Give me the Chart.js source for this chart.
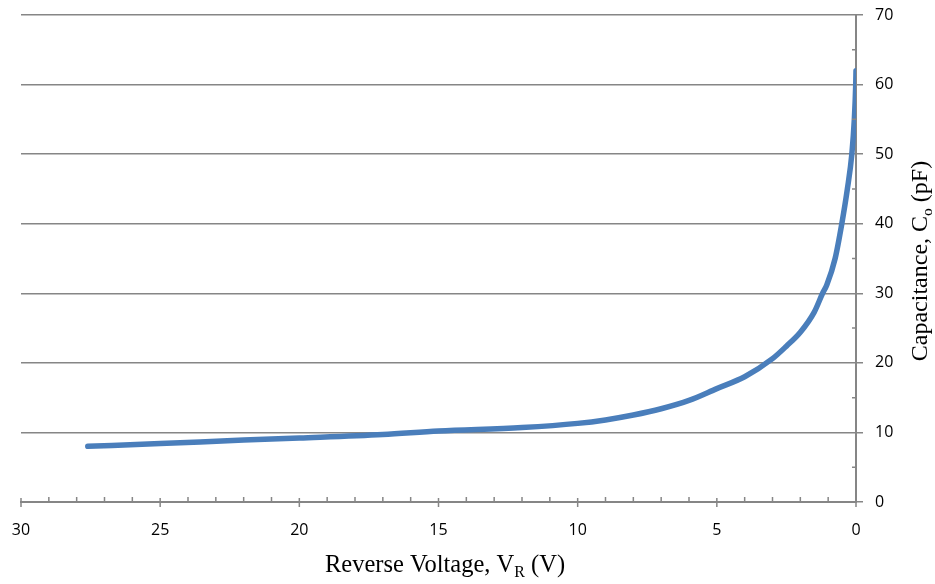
<!DOCTYPE html>
<html>
<head>
<meta charset="utf-8">
<script src="https://cdn.jsdelivr.net/npm/chart.js@4"></script>
<style>
  body { margin: 0; background: #fff; }
</style>
</head>
<body>
<canvas id="chart" width="935" height="584"></canvas>
<script>
// reverse voltage (V) and capacitance (pF)
const voltage     = [27.6, 25, 22, 20, 17, 15, 12, 10, 9, 8, 7, 6, 5, 4, 3, 2.5, 2, 1.5, 1.2, 1.05, 0.75, 0.51, 0.31, 0.15, 0.06, 0.01, 0]
const capacitance = [8.0, 8.4, 8.9, 9.2, 9.7, 10.2, 10.7, 11.3, 11.8, 12.5, 13.4, 14.6, 16.3, 18.0, 20.6, 22.4, 24.4, 27.3, 30.0, 31.2, 35.0, 40.0, 45.0, 50.0, 55.0, 60.0, 62.0]
const xTicks = [0, 5, 10, 15, 20, 25, 30]
const yTicks = [0, 10, 20, 30, 40, 50, 60, 70]

const axisGray = "#868686"

function drawRich(ctx, parts, x, y, size) {
  // parts: [text, isSub]
  let total = 0
  const widths = parts.map(p => {
    ctx.font = (p[1] ? size * 0.65 : size) + "px 'Liberation Serif'"
    const w = ctx.measureText(p[0]).width
    total += w
    return w
  })
  let cx = x - total / 2
  parts.forEach((p, i) => {
    ctx.font = (p[1] ? size * 0.65 : size) + "px 'Liberation Serif'"
    ctx.fillText(p[0], cx, p[1] ? y + size * 0.22 : y)
    cx += widths[i]
  })
}

const decorations = {
  id: "decorations",
  afterDraw(chart) {
    const ctx = chart.ctx
    const xs = chart.scales.x
    const ys = chart.scales.y
    const area = chart.chartArea
    ctx.save()
    ctx.strokeStyle = axisGray
    ctx.lineWidth = 1.5
    ctx.beginPath()
    // x ticks: minor every 1 V (inside), major every 5 V (crossing)
    for (let v = 0; v <= 30; v++) {
      const px = xs.getPixelForValue(v)
      if (v % 5 === 0) {
        ctx.moveTo(px, area.bottom - 4)
        ctx.lineTo(px, area.bottom + 5)
      } else {
        ctx.moveTo(px, area.bottom - 5)
        ctx.lineTo(px, area.bottom)
      }
    }
    // y minor ticks every 5 pF (inside)
    for (let c = 5; c < 70; c += 10) {
      const py = ys.getPixelForValue(c)
      ctx.moveTo(area.right - 4, py)
      ctx.lineTo(area.right, py)
    }
    ctx.stroke()

    // axis titles with subscripts
    ctx.fillStyle = "#000"
    ctx.textBaseline = "alphabetic"
    ctx.textAlign = "left"
    drawRich(ctx, [["Reverse Voltage, V", false], ["R", true], [" (V)", false]], 445, 572, 24.5)
    ctx.translate(927, 261)
    ctx.rotate(-Math.PI / 2)
    drawRich(ctx, [["Capacitance, C", false], ["o", true], [" (pF)", false]], 0, 0, 24)
    ctx.restore()
  }
}

new Chart(document.getElementById("chart"), {
  type: "line",
  data: {
    datasets: [{
      data: voltage.map((v, i) => ({ x: v, y: capacitance[i] })),
      borderColor: "#4a7ebb",
      borderWidth: 5.5,
      borderCapStyle: "round",
      pointRadius: 0,
      fill: false,
      cubicInterpolationMode: "monotone"
    }]
  },
  options: {
    responsive: false,
    animation: false,
    layout: { padding: { top: 15, left: 21, right: 0, bottom: 0 } },
    plugins: { legend: { display: false }, tooltip: { enabled: false } },
    scales: {
      x: {
        type: "linear",
        reverse: true,
        min: 0,
        max: 30,
        afterBuildTicks: s => { s.ticks = xTicks.map(v => ({ value: v })) },
        afterFit: s => { s.height = 82 },
        grid: { display: false },
        border: { display: true, color: axisGray, width: 2 },
        ticks: { color: "#000", padding: 11, maxRotation: 0, font: { family: "'Open Sans'", size: 16 } }
      },
      y: {
        position: "right",
        min: 0,
        max: 70,
        afterBuildTicks: s => { s.ticks = yTicks.map(v => ({ value: v })) },
        afterFit: s => { s.width = 79; s.paddingTop = 0; s.paddingBottom = 0 },
        grid: { color: axisGray, lineWidth: 1.5, tickLength: 7 },
        border: { display: true, color: axisGray, width: 2 },
        ticks: { color: "#000", padding: 12, font: { family: "'Open Sans'", size: 16 } }
      }
    }
  },
  plugins: [decorations]
})
</script>
</body>
</html>
